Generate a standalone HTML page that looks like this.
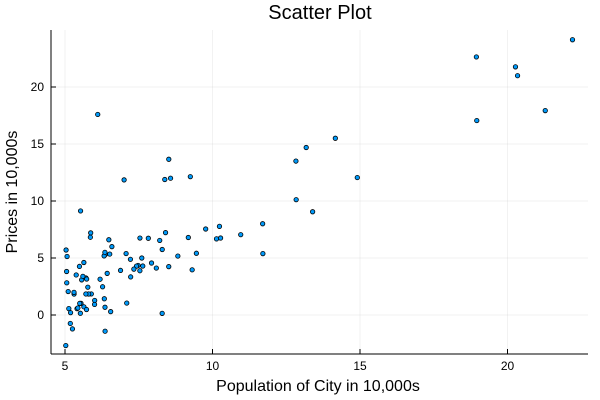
<!DOCTYPE html>
<html><head><meta charset="utf-8"><style>
body{margin:0;background:#fff;}
svg{display:block;font-family:"Liberation Sans","DejaVu Sans",sans-serif;}
</style></head><body>
<svg id="chart" width="600" height="400">
<rect width="600" height="400" fill="#fff"/>
<text x="320" y="19" font-size="20" text-anchor="middle" fill="#000">Scatter Plot</text>
<g id="grid"></g>
<g id="axes"></g>
<g id="pts"></g>
<text x="318" y="391" font-size="16" text-anchor="middle">Population of City in 10,000s</text>
<text transform="translate(17,192) rotate(-90)" font-size="16" text-anchor="middle">Prices in 10,000s</text>
</svg>
<script>
const population=[6.1101,5.5277,8.5186,7.0032,5.8598,8.3829,7.4764,8.5781,6.4862,5.0546,5.7107,14.164,5.734,8.4084,5.6407,5.3794,6.3654,5.1301,6.4296,7.0708,6.1891,20.27,5.4901,6.3261,5.5649,18.945,12.828,10.957,13.176,22.203,5.2524,6.5894,9.2482,5.8918,8.2111,7.9334,8.0959,5.6063,12.836,6.3534,5.4069,6.8825,11.708,5.7737,7.8247,7.0931,5.0702,5.8014,11.7,5.5416,7.5402,5.3077,7.4239,7.6031,6.3328,6.3589,6.2742,5.6397,9.3102,9.4536,8.8254,5.1793,21.279,14.908,18.959,7.2182,8.2951,10.236,5.4994,20.341,10.136,7.3345,6.0062,7.2259,5.0269,6.5479,7.5386,5.0365,10.274,5.1077,5.7292,5.1884,6.3557,9.7687,6.5159,8.5172,9.1802,6.002,5.5204,5.0594,5.7077,7.6366,5.8707,5.3054,8.2934,13.394,5.4369];
const prices=[17.592,9.1302,13.662,11.854,6.8233,11.886,4.3483,12,6.5987,3.8166,3.2522,15.505,3.1551,7.2258,0.71618,3.5129,5.3048,0.56077,3.6518,5.3893,3.1386,21.767,4.263,5.1875,3.0825,22.638,13.501,7.0467,14.692,24.147,-1.22,5.9966,12.134,1.8495,6.5426,4.5623,4.1164,3.3928,10.117,5.4974,0.55657,3.9115,5.3854,2.4406,6.7318,1.0463,5.1337,1.844,8.0043,1.0179,6.7504,1.8396,4.2885,4.9981,1.4233,-1.4211,2.4756,4.6042,3.9624,5.4141,5.1694,-0.74279,17.929,12.054,17.054,4.8852,5.7442,7.7754,1.0173,20.992,6.6799,4.0259,1.2784,3.3411,-2.6807,0.29678,3.8845,5.7014,6.7526,2.0576,0.47953,0.20421,0.67861,7.5435,5.3436,4.2415,6.7981,0.92695,0.152,2.8214,1.8451,4.2959,7.2029,1.9869,0.14454,9.0551,0.61705];
const xTicks=[5,10,15,20];
const yTicks=[0,5,10,15,20];
const L=51,R=588,T=30,B=354;
const sx=v=>65+(v-5)*29.5;
const sy=v=>315-v*11.4;
const NS="http://www.w3.org/2000/svg";
function mk(tag,attrs,parent,txt){const e=document.createElementNS(NS,tag);for(const k in attrs)e.setAttribute(k,attrs[k]);if(txt!==undefined)e.textContent=txt;document.getElementById(parent).appendChild(e);return e;}
xTicks.forEach(t=>{
 const g=mk('line',{x1:sx(t),x2:sx(t),y1:T,y2:B,stroke:'#000','stroke-opacity':0.1,'stroke-width':0.5},'grid');
 
 
 const k=mk('line',{x1:sx(t),x2:sx(t),y1:B,y2:B-5,stroke:'#000','stroke-width':1},'axes');
 
 
 const l=mk('text',{x:sx(t),y:B+16,'font-size':12,'text-anchor':'middle'},'axes',String(t));
 
 
});
yTicks.forEach(t=>{
 const g=mk('line',{x1:L,x2:R,y1:sy(t),y2:sy(t),stroke:'#000','stroke-opacity':0.1,'stroke-width':0.5},'grid');
 
 
 const k=mk('line',{x1:L,x2:L+5,y1:sy(t),y2:sy(t),stroke:'#000','stroke-width':1},'axes');
 
 
 const l=mk('text',{x:L-7,y:sy(t)+4,'font-size':12,'text-anchor':'end'},'axes',String(t));
 
 
});
const xa=mk('line',{x1:L,x2:R,y1:B,y2:B,stroke:'#000','stroke-width':1},'axes');


const ya=mk('line',{x1:L,x2:L,y1:T,y2:B,stroke:'#000','stroke-width':1},'axes');


population.forEach((p,i)=>{
 const c=mk('circle',{cx:sx(p),cy:sy(prices[i]),r:2.2,fill:'#009afa',stroke:'#000','stroke-width':0.8},'pts');
 
 
});
</script>
</body></html>
